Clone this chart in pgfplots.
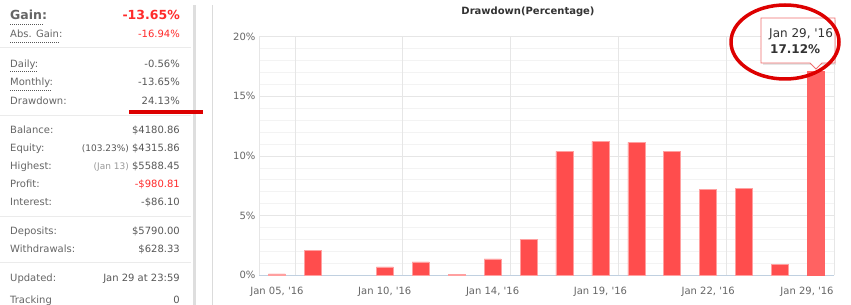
\documentclass[border=0pt]{standalone}
\usepackage{pgfplots}
\pgfplotsset{compat=1.18}
\usepackage{fontspec}
\newfontfamily\df{DejaVu Sans}
\definecolor{lbl}{HTML}{666666}
\definecolor{val}{HTML}{585858}
\definecolor{redv}{HTML}{FF2A2A}
\definecolor{barred}{HTML}{FF4D4D}
\definecolor{barhl}{HTML}{FF6262}
\definecolor{barbd}{HTML}{FFA0A0}
\definecolor{gridc}{HTML}{E6E6E6}
\definecolor{mgrid}{HTML}{F3F3F3}
\definecolor{axisc}{HTML}{C0D0E0}
\definecolor{ann}{HTML}{DD0000}
\definecolor{sepc}{HTML}{EBEBEB}
\definecolor{titc}{HTML}{333333}
\newcommand\fs{\df\fontsize{10}{12}\selectfont}
\begin{document}
\begin{tikzpicture}[x=1pt,y=1pt]
\clip (0,0) rectangle (851,305);
\fill[white] (0,0) rectangle (851,305);
% left panel
\fill[black!13] (193,0) rectangle (196,300);
\draw[black!14, line width=1pt] (212.5,0) -- (212.5,300);
\foreach \yy in {257,189,88,42} {\draw[sepc, line width=1pt] (0,\yy) -- (191,\yy);}
\foreach \yy/\xe in {281/44,262.3/60,233.3/37,215/52} {\draw[val, line width=0.8pt, dash pattern=on 1pt off 1pt] (10,\yy) -- (\xe,\yy);}
\node[anchor=base west, inner sep=0, text=lbl, font=\df\bfseries\fontsize{12.5}{14}\selectfont] at (10,285) {Gain:};
\node[anchor=base east, inner sep=0, text=redv, font=\df\bfseries\fontsize{12.5}{14}\selectfont] at (180,285) {-13.65\%};
\foreach \yy/\lab/\vv in {267.3/Abs. Gain:/{\textcolor{redv}{-16.94\%}},237.3/Daily:/-0.56\%,219.3/Monthly:/-13.65\%,200.7/Drawdown:/24.13\%,171/Balance:/\$4180.86,153/Equity:/{{\fontsize{9}{10}\selectfont(103.23\%)} \$4315.86},135/Highest:/{{\fontsize{9}{10}\selectfont\textcolor{black!40}{(Jan 13)}} \$5588.45},117.3/Profit:/{\textcolor{redv}{-\$980.81}},99.3/Interest:/-\$86.10,70/Deposits:/\$5790.00,52.3/Withdrawals:/\$628.33,23/Updated:/Jan 29 at 23:59,1.5/Tracking/0} {
  \node[anchor=base west, inner sep=0, text=lbl, font=\fs] at (10,\yy) {\lab};
  \node[anchor=base east, inner sep=0, text=val, font=\fs] at (180,\yy) {\vv};
}
% chart
\node[font=\df\bfseries\fontsize{10}{12}\selectfont, text=titc] at (528,293) {Drawdown(Percentage)};
\begin{axis}[
  at={(259pt,29.7pt)}, anchor=south west,
  scale only axis, width=575pt, height=238.6pt,
  xmin=-0.5, xmax=15.5, ymin=0, ymax=20,
  ybar, bar width=17pt,
  axis x line*=bottom, axis y line*=left,
  x axis line style={draw=axisc, line width=1pt},
  y axis line style={draw=none},
  tick style={draw=none},
  xtick={0,3,6,9,12,15},
  xticklabels={{Jan 05, '16},{Jan 10, '16},{Jan 14, '16},{Jan 19, '16},{Jan 22, '16},{Jan 29, '16\hspace*{18pt}}},
  extra x ticks={-0.5,0.5,3.5,6.5,9.5,12.5,15.5},
  extra x tick labels={},
  extra x tick style={grid=major},
  ytick={0,5,10,15,20},
  yticklabels={0\%,5\%,10\%,15\%,20\%},
  minor y tick num=4,
  ymajorgrids, yminorgrids,
  major grid style={draw=gridc, line width=0.8pt},
  minor grid style={draw=mgrid, line width=0.8pt},
  xticklabel style={font=\fs, text=lbl, yshift=-4pt},
  yticklabel style={font=\fs, text=lbl},
]
\addplot[bar shift=0pt, fill=barred, draw=barbd, line width=0.6pt] coordinates {
(0,0.12) (1,2.12) (3,0.70) (4,1.12) (5,0.10) (6,1.37) (7,3.04) (8,10.39)
(9,11.23) (10,11.15) (11,10.39) (12,7.21) (13,7.29) (14,0.92)};
\addplot[bar shift=0pt, fill=barhl, draw=barhl, line width=0.6pt] coordinates {(15,17.12)};
\end{axis}
% tooltip
\fill[black!10] (763,240) -- (836,240) -- (836,285) -- (763,285) -- cycle;
\draw[fill=white, draw={rgb,255:red,240;green,110;blue,110}, line width=0.8pt]
  (761,287) -- (835,287) -- (835,242) -- (822,242) -- (816,236) -- (810,242) -- (761,242) -- cycle;
\node[anchor=base west, inner sep=0, text=titc, font=\df\fontsize{12}{14}\selectfont] at (769,267) {Jan 29, '16};
\node[anchor=base west, inner sep=0, text=titc, font=\df\bfseries\fontsize{12}{14}\selectfont] at (770,251) {17.12\%};
% annotations
\draw[ann, line width=3.5pt] (129,193) -- (203,193);
\draw[ann, line width=3.5pt] (785,263) ellipse [x radius=54, y radius=37];
\end{tikzpicture}
\end{document}
